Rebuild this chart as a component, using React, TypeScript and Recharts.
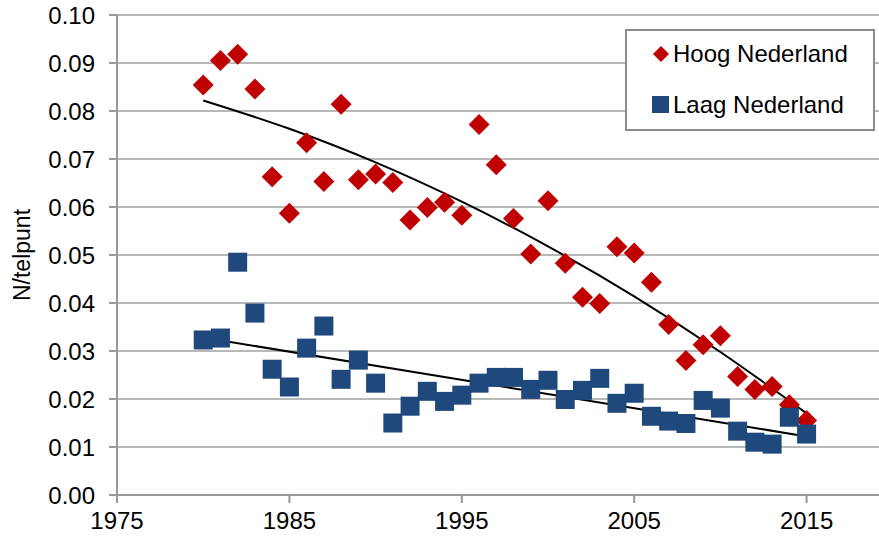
import React from 'react';
import {
  ComposedChart,
  Scatter,
  Line,
  XAxis,
  YAxis,
  CartesianGrid,
} from 'recharts';

// values
const years = [
  1980, 1981, 1982, 1983, 1984, 1985, 1986, 1987, 1988, 1989,
  1990, 1991, 1992, 1993, 1994, 1995, 1996, 1997, 1998, 1999,
  2000, 2001, 2002, 2003, 2004, 2005, 2006, 2007, 2008, 2009,
  2010, 2011, 2012, 2013, 2014, 2015,
];

const hoogNederland = [
  0.0854, 0.0905, 0.0918, 0.0846, 0.0663, 0.0587, 0.0734, 0.0653, 0.0814, 0.0657,
  0.0669, 0.0651, 0.0573, 0.0599, 0.061, 0.0583, 0.0772, 0.0688, 0.0576, 0.0502,
  0.0613, 0.0483, 0.0412, 0.0399, 0.0517, 0.0504, 0.0443, 0.0355, 0.028, 0.0313,
  0.0332, 0.0247, 0.022, 0.0226, 0.0188, 0.0155,
];

const laagNederland = [
  0.0323, 0.0327, 0.0485, 0.0379, 0.0262, 0.0225, 0.0306, 0.0352, 0.0241, 0.0281,
  0.0233, 0.015, 0.0185, 0.0216, 0.0195, 0.0208, 0.0233, 0.0245, 0.0245, 0.022,
  0.0239, 0.0199, 0.0218, 0.0243, 0.0191, 0.0212, 0.0164, 0.0154, 0.0149, 0.0197,
  0.0181, 0.0133, 0.011, 0.0106, 0.0162, 0.0127,
];

// trend lines as drawn in the reference
const hoogTrendYears = [1980, 1985, 1990, 1995, 2000, 2005, 2010, 2015];
const hoogTrend = [0.0822, 0.0763, 0.0693, 0.0611, 0.0518, 0.0414, 0.0298, 0.017];
const laagTrendYears = [1980, 2015];
const laagTrend = [0.0328, 0.0122];

const xTicks = [1975, 1985, 1995, 2005, 2015];
const yTicks = [0, 0.01, 0.02, 0.03, 0.04, 0.05, 0.06, 0.07, 0.08, 0.09, 0.1];

const RED = '#C00000';
const BLUE = '#1F497D';
const FONT = '"Liberation Sans", Arial, sans-serif';

const toRows = (xs: number[], ys: number[]) => xs.map((year, i) => ({ year, value: ys[i] }));

const hoogData = toRows(years, hoogNederland);
const laagData = toRows(years, laagNederland);
const hoogTrendData = toRows(hoogTrendYears, hoogTrend);
const laagTrendData = toRows(laagTrendYears, laagTrend);

const Diamond = (props: any) => {
  const { cx, cy } = props;
  const r = 10.5;
  return (
    <polygon
      points={`${cx},${cy - r} ${cx + r},${cy} ${cx},${cy + r} ${cx - r},${cy}`}
      fill={RED}
    />
  );
};

const Square = (props: any) => {
  const { cx, cy } = props;
  const s = 19;
  return <rect x={cx - s / 2} y={cy - s / 2} width={s} height={s} fill={BLUE} />;
};

const LegendBox = () => (
  <div
    style={{
      position: 'absolute',
      left: 625,
      top: 29,
      width: 250,
      height: 102,
      boxSizing: 'border-box',
      border: '2px solid #8c8c8c',
      background: '#fff',
      fontFamily: FONT,
      fontSize: 24,
      color: '#000',
    }}
  >
    <svg width={20} height={20} style={{ position: 'absolute', left: 24, top: 13 }}>
      <polygon points="10,2 18,10 10,18 2,10" fill={RED} />
    </svg>
    <div style={{ position: 'absolute', left: 46, top: 8, lineHeight: '30px' }}>Hoog Nederland</div>
    <svg width={18} height={18} style={{ position: 'absolute', left: 25, top: 65 }}>
      <rect x={0} y={0} width={17} height={17} fill={BLUE} />
    </svg>
    <div style={{ position: 'absolute', left: 46, top: 59, lineHeight: '30px' }}>Laag Nederland</div>
  </div>
);

const YLabel = (props: any) => {
  const { viewBox } = props;
  const x = 22;
  const y = viewBox.y + viewBox.height / 2;
  return (
    <text
      x={x}
      y={y}
      transform={`rotate(-90, ${x}, ${y})`}
      textAnchor="middle"
      dominantBaseline="central"
      fontFamily={FONT}
      fontSize={23}
      fill="#000"
    >
      N/telpunt
    </text>
  );
};

export default function App() {
  return (
    <div style={{ position: 'absolute', left: 0, top: 0, width: 879, height: 545, background: '#fff' }}>
      <ComposedChart
        width={879}
        height={545}
        margin={{ top: 15, right: 0, bottom: 0, left: 0 }}
      >
        <CartesianGrid vertical={false} stroke="#a0a0a0" strokeWidth={1.5} />
        <XAxis
          type="number"
          dataKey="year"
          domain={[1975, 2019.2]}
          ticks={xTicks}
          allowDataOverflow
          height={50}
          stroke="#999"
          strokeWidth={2}
          tickSize={8}
          tickMargin={9}
          tick={{ fill: '#000', fontSize: 24, fontFamily: FONT }}
        />
        <YAxis
          type="number"
          dataKey="value"
          domain={[0, 0.1]}
          ticks={yTicks}
          width={117}
          stroke="#999"
          strokeWidth={2}
          tickSize={8}
          tickMargin={14}
          tickFormatter={(v: number) => v.toFixed(2)}
          tick={{ fill: '#000', fontSize: 24, fontFamily: FONT }}
          label={<YLabel />}
        />
        <Scatter
          name="Hoog Nederland"
          data={hoogData}
          shape={<Diamond />}
          isAnimationActive={false}
        />
        <Scatter
          name="Laag Nederland"
          data={laagData}
          shape={<Square />}
          isAnimationActive={false}
        />
        <Line
          data={hoogTrendData}
          dataKey="value"
          type="monotone"
          stroke="#000"
          strokeWidth={2}
          dot={false}
          activeDot={false}
          legendType="none"
          isAnimationActive={false}
        />
        <Line
          data={laagTrendData}
          dataKey="value"
          type="linear"
          stroke="#000"
          strokeWidth={2}
          dot={false}
          activeDot={false}
          legendType="none"
          isAnimationActive={false}
        />
      </ComposedChart>
      <LegendBox />
    </div>
  );
}
